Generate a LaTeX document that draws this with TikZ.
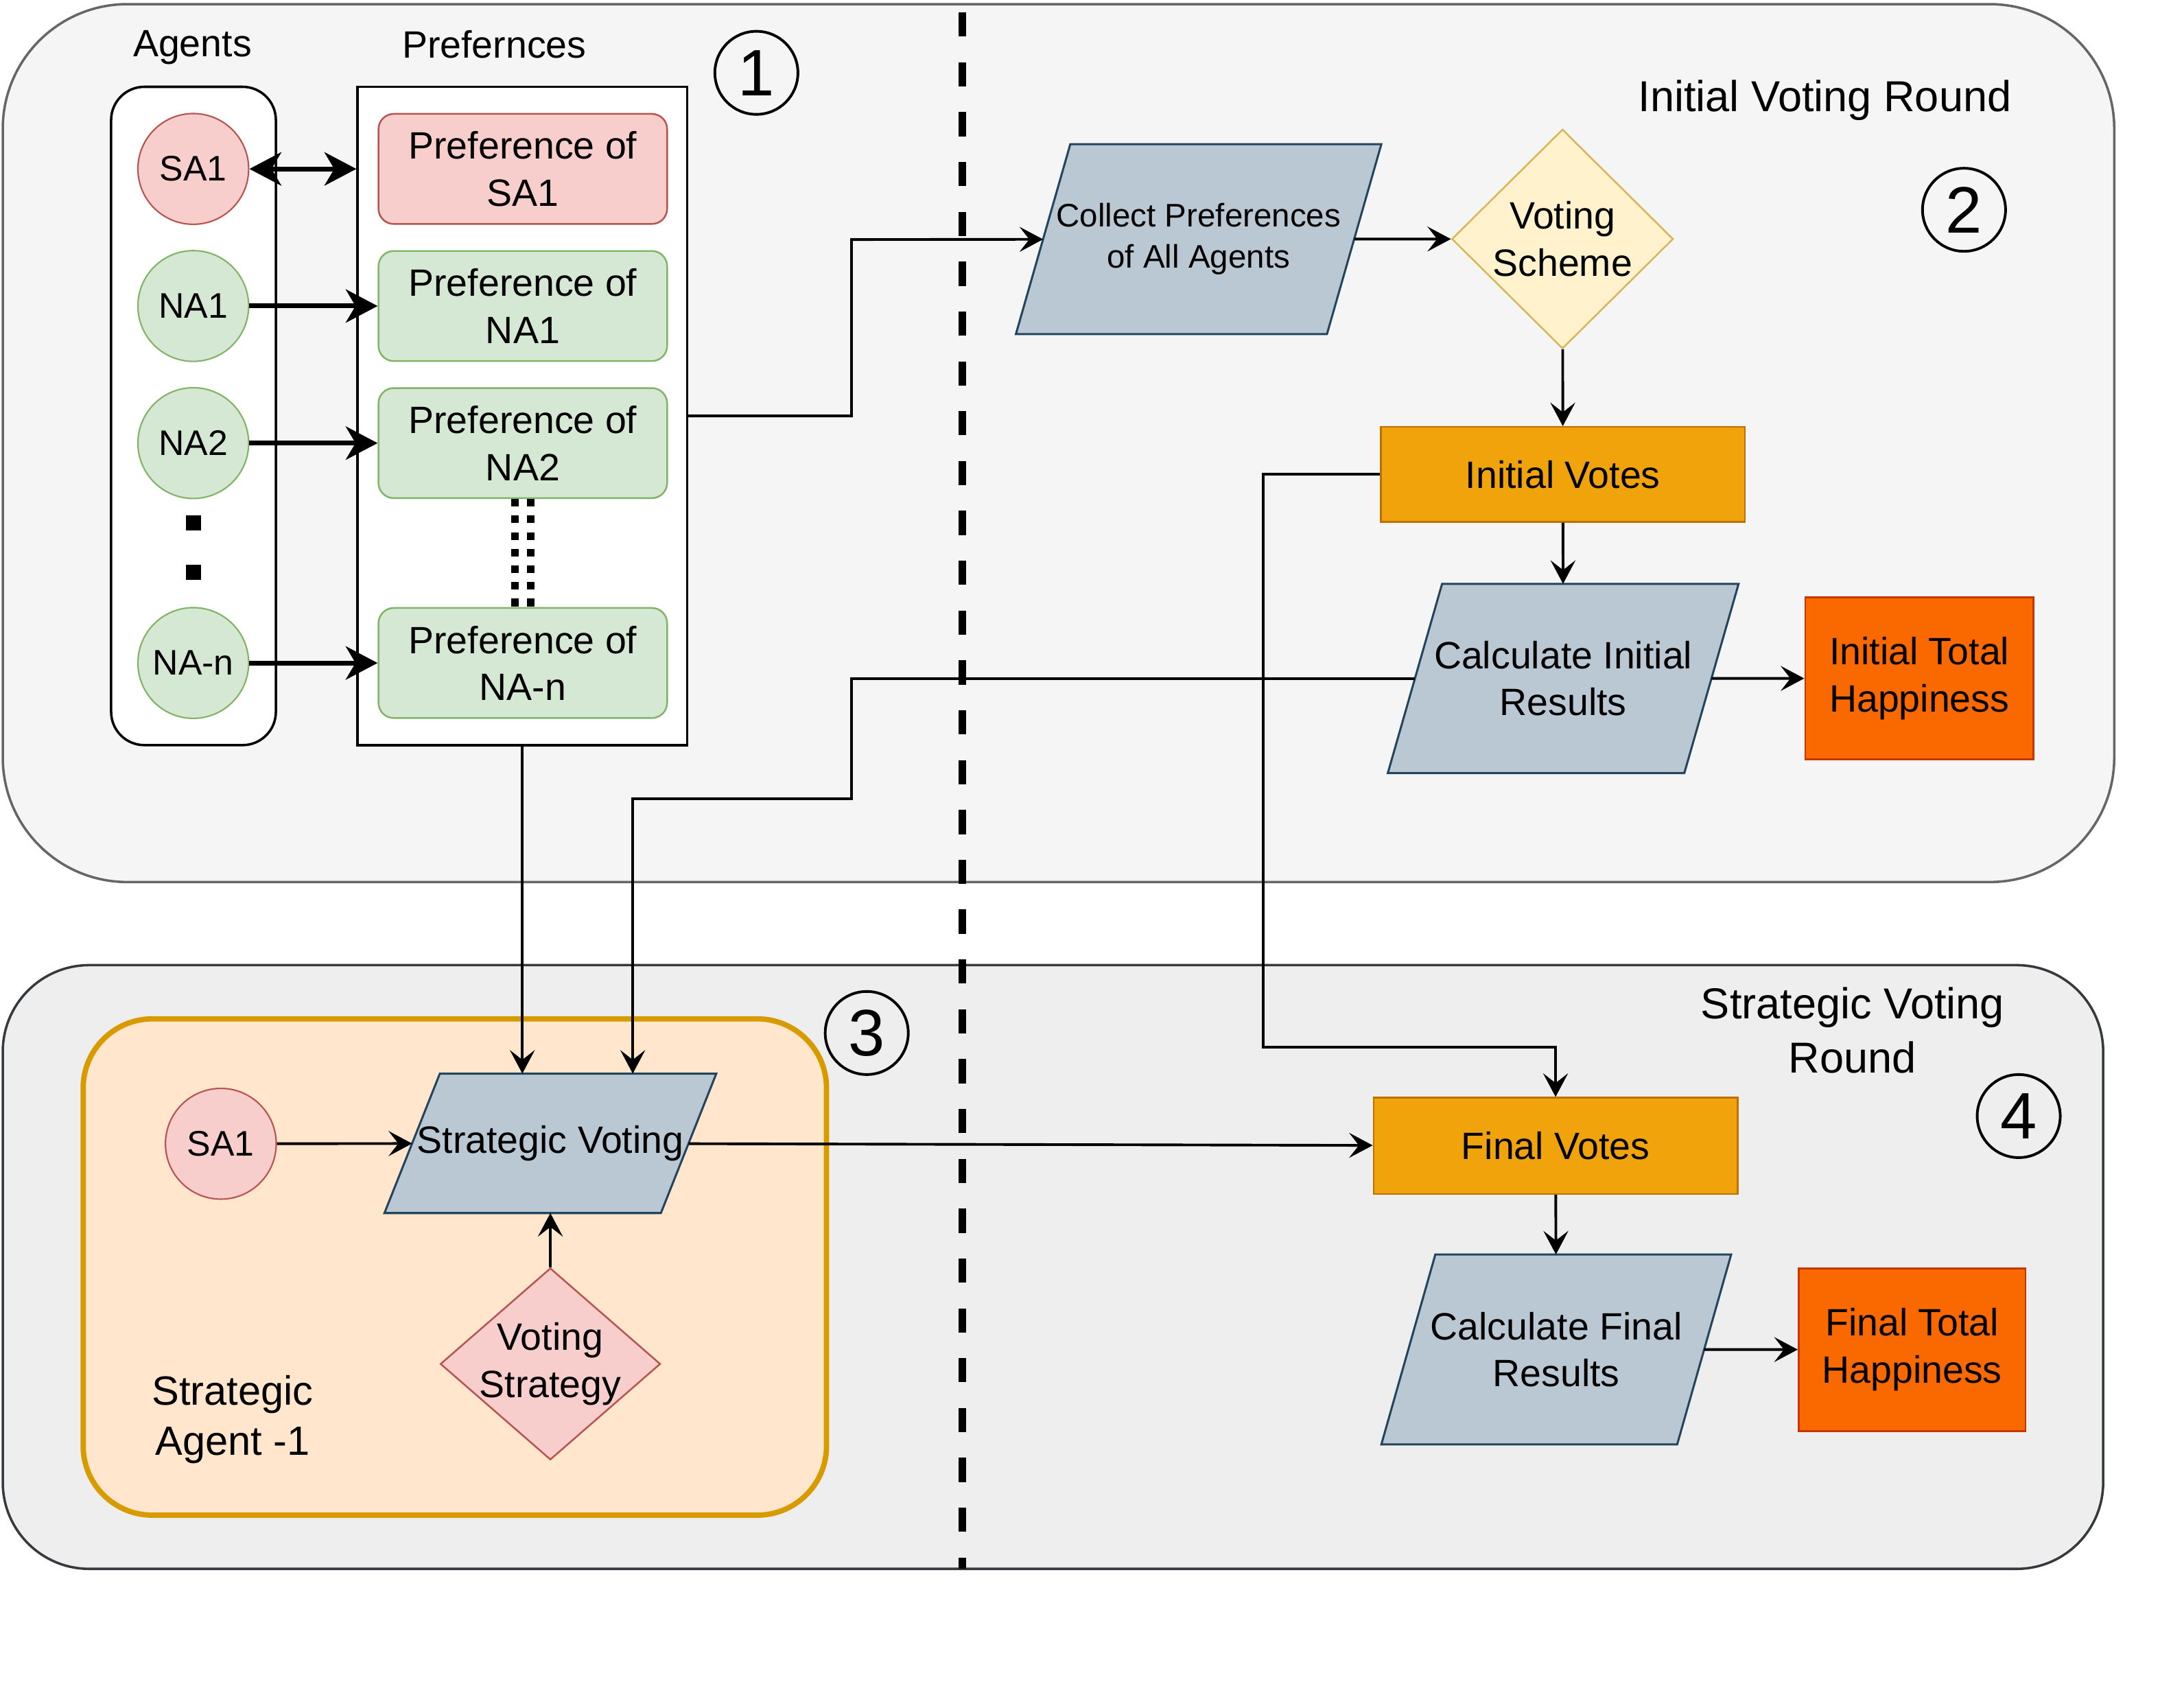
\documentclass[tikz,border=0pt]{standalone}
\usepackage{fontspec}
\setmainfont{Liberation Sans}
\usetikzlibrary{arrows.meta,calc,shapes.geometric}

\definecolor{topfill}{HTML}{F5F5F5}
\definecolor{topline}{HTML}{666666}
\definecolor{lowfill}{HTML}{EEEEEE}
\definecolor{lowline}{HTML}{36393D}
\definecolor{redfill}{HTML}{F8CECC}
\definecolor{redline}{HTML}{B85450}
\definecolor{greenfill}{HTML}{D5E8D4}
\definecolor{greenline}{HTML}{82B366}
\definecolor{bluefill}{HTML}{BAC8D3}
\definecolor{blueline}{HTML}{23445D}
\definecolor{yellowfill}{HTML}{FFF2CC}
\definecolor{yellowline}{HTML}{D6B656}
\definecolor{votefill}{HTML}{F0A30A}
\definecolor{voteline}{HTML}{BD7000}
\definecolor{happyfill}{HTML}{FA6800}
\definecolor{happyline}{HTML}{C73500}
\definecolor{agentfill}{HTML}{FFE6CC}
\definecolor{agentline}{HTML}{D79B00}

\tikzset{
	fs/.style={font=\fontsize{15.65}{19.3}\selectfont, align=center},
	agent/.style={circle, draw=#1line, fill=#1fill, line width=0.6pt, minimum size=1.6cm, inner sep=0pt, font=\fontsize{14.6}{17}\selectfont},
	pref/.style={rectangle, rounded corners=0.22cm, draw=#1line, fill=#1fill, line width=0.7pt, minimum width=4.17cm, minimum height=1.59cm, inner sep=0pt, fs},
	holder/.style={rectangle, draw, fill=white, line width=1pt, minimum height=9.51cm},
	para/.style={rectangle, inner sep=0pt, append after command={\pgfextra{
		\draw[draw=blueline, fill=bluefill, line width=0.85pt] ([xshift=#1]\tikzlastnode.north west)--([xshift=#1]\tikzlastnode.north east)--([xshift=-#1]\tikzlastnode.south east)--([xshift=-#1]\tikzlastnode.south west)--cycle;}}},
	choice/.style={diamond, draw=#1line, fill=#1fill, line width=0.7pt, inner sep=0pt},
	result/.style={rectangle, draw=#1line, fill=#1fill, line width=0.7pt, fs},
	stage/.style={circle, draw, line width=1.1pt, minimum size=1.2cm, inner sep=0pt, font=\fontsize{27}{27}\selectfont},
	title/.style={font=\fontsize{17.8}{22.2}\selectfont, align=center},
	flow/.style={>={Stealth[length=0.34cm, width=0.36cm, inset=0.14cm]}, ->, line width=1.1pt},
	bold/.style={>={Stealth[length=0.46cm, width=0.48cm, inset=0.14cm]}, line width=2pt},
	dotline/.style={line width=0.11cm, dash pattern=on 0.11cm off 0.13cm},
	divider/.style={line width=0.11cm, dash pattern=on 0.35cm off 0.37cm},
	dot/.style={rectangle, fill, minimum size=0.22cm, inner sep=0pt}
}

\begin{document}
\begin{tikzpicture}[x=0.02cm, y=-0.02cm]
	\path[use as bounding box, fill=white] (0,0) rectangle (1568,1233);
	% the two rounds
	\draw[draw=topline, fill=topfill, line width=1pt, rounded corners=1.8cm] (2,3) rectangle (1527,637);
	\draw[draw=lowline, fill=lowfill, line width=1pt, rounded corners=1.25cm] (2,697) rectangle (1519,1133);
	\draw[divider] (695,9)--(695,1133);
	\node (roundone) at (1318,72.5) [title] {Initial Voting Round};
	\node (roundtwo) at (1338,744) [title] {Strategic Voting\\Round};
	\node (stageone) at (546.3,52.6) [stage] {1};
	\node (stagetwo) at (1418.5,151.5) [stage] {2};
	\node (stagethree) at (626,746) [stage] {3};
	\node (stagefour) at (1458,806) [stage] {4};

	% agents and preferences
	\node (agentstitle) at (139,34.5) [fs] {Agents};
	\node (prefstitle) at (357,32) [fs] {Prefernces};
	\node (agentsbox) at (139.75,300.4) [holder, minimum width=2.38cm, rounded corners=0.48cm] {};
	\node (prefsbox) at (377.25,300.4) [holder, minimum width=4.76cm] {};
	\node (sa1) at (139.6,122) [agent=red] {SA1};
	\node (na1) at (139.6,221) [agent=green] {NA1};
	\node (na2) at (139.6,320) [agent=green] {NA2};
	\node (nan) at (139.6,478.8) [agent=green] {NA-n};
	\node (dotone) at (139.8,377.6) [dot] {};
	\node (dottwo) at (139.8,413.4) [dot] {};
	\node (prefsa1) at (377.6,122) [pref=red] {Preference of\\SA1};
	\node (prefna1) at (377.6,221) [pref=green] {Preference of\\NA1};
	\node (prefna2) at (377.6,320) [pref=green] {Preference of\\NA2};
	\node (prefnan) at (377.6,478.8) [pref=green] {Preference of\\NA-n};
	\draw[bold, <->] (sa1)--(sa1 -| prefsbox.west);
	\draw[bold, ->] (na1)--(prefna1);
	\draw[bold, ->] (na2)--(prefna2);
	\draw[bold, ->] (nan)--(prefnan);
	\draw[dotline] ([xshift=-0.115cm]prefna2.south)--([xshift=-0.115cm]prefnan.north);
	\draw[dotline] ([xshift=0.115cm]prefna2.south)--([xshift=0.115cm]prefnan.north);

	% initial round
	\node (collect) at (865.7,172.7) [para=0.393cm, minimum width=4.48cm, minimum height=2.73cm, label={[font=\fontsize{13.4}{17}\selectfont, align=center]center:{Collect Preferences\\of All Agents}}] {};
	\node (scheme) at (1128.5,172.6) [choice=yellow, minimum width=3.2cm, minimum height=3.17cm, label={[fs]center:{Voting\\Scheme}}] {};
	\node (initvotes) at (1128.8,342.6) [result=vote, minimum width=5.26cm, minimum height=1.37cm] {Initial Votes};
	\node (calcinit) at (1129,490) [para=0.392cm, minimum width=4.27cm, minimum height=2.72cm, label={[fs]center:{Calculate Initial\\Results}}] {};
	\node (inithappy) at (1386.2,489.9) [result=happy, minimum width=3.3cm, minimum height=2.34cm] {Initial Total\\Happiness};
	\draw[flow] (prefsbox.east) -| (615,173)--(collect);
	\draw[flow] (collect)--(scheme);
	\draw[flow] (scheme)--(initvotes);
	\draw[flow] (initvotes)--(calcinit);
	\draw[flow] (calcinit)--(inithappy);

	% strategic round
	\node (stratagent) at (328.5,915) [rectangle, draw=agentline, fill=agentfill, line width=2.2pt, rounded corners=1cm, minimum width=10.74cm, minimum height=7.17cm] {};
	\node (agentname) at (168,1025) [font=\fontsize{16.8}{20.5}\selectfont, align=center] {Strategic\\Agent -1};
	\node (sa1b) at (159.5,826) [agent=red] {SA1};
	\node (stratvote) at (397.5,825.7) [para=0.4cm, minimum width=3.98cm, minimum height=2cm, label={[fs]center:{Strategic Voting}}] {};
	\node (strategy) at (397.5,985) [choice=red, minimum width=3.18cm, minimum height=2.77cm, label={[fs]center:{Voting\\Strategy}}] {};
	\node (finalvotes) at (1123.5,827.5) [result=vote, minimum width=5.26cm, minimum height=1.39cm] {Final Votes};
	\node (calcfinal) at (1124,974.5) [para=0.39cm, minimum width=4.26cm, minimum height=2.73cm, label={[fs]center:{Calculate Final\\Results}}] {};
	\node (finalhappy) at (1381,974.7) [result=happy, minimum width=3.28cm, minimum height=2.35cm] {Final Total\\Happiness};
	\draw[flow] (prefsbox.south)--(prefsbox.south |- stratvote.north);
	\draw[flow] (calcinit) -| (615,577) -| ($(stratvote.north)+(59.5,0)$);
	\draw[flow] (initvotes.west) -| (912.5,756.3) -| (finalvotes);
	\draw[flow] (sa1b)--(stratvote);
	\draw[flow] (strategy)--(stratvote);
	\draw[flow] (stratvote)--(finalvotes);
	\draw[flow] (finalvotes)--(calcfinal);
	\draw[flow] (calcfinal)--(finalhappy);
\end{tikzpicture}
\end{document}
